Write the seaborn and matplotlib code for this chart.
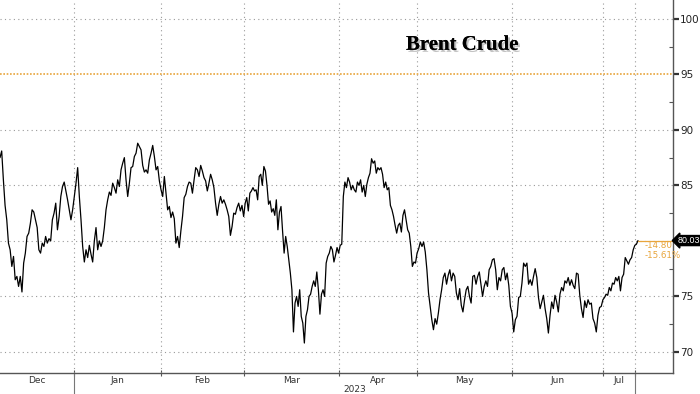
import numpy as np
import pandas as pd
import matplotlib
matplotlib.use("Agg")
import matplotlib.pyplot as plt
import matplotlib.patheffects as pe
import matplotlib.transforms as mtransforms
import seaborn as sns

# ---- data ----
months = ["Dec", "Jan", "Feb", "Mar", "Apr", "May", "Jun", "Jul"]
trading_days = [18, 21, 20, 23, 19, 23, 22, 8.5]
year_label = "2023"
year_edges = [18, 153.8]

dec = [87.5, 88.1, 85.5, 83.2, 81.9, 79.8, 79.2, 77.7, 78.6, 76.5, 76.8, 75.9, 76.8, 75.4,
       78.0, 78.9, 80.4, 80.7, 81.6, 82.8, 82.6, 81.9, 81.2, 79.2, 78.9, 79.8, 79.5, 80.4,
       79.8, 80.2, 80.0, 81.9, 82.5, 83.4, 81.0, 82.2, 84.0, 84.9, 85.3, 84.5, 83.7, 82.8,
       81.9, 82.8]
jan = [84.0, 85.2, 86.6, 84.0, 81.9, 79.5, 78.1, 79.2, 78.5, 79.6, 78.8, 78.1, 80.0, 81.2,
       79.2, 80.0, 79.5, 80.0, 81.2, 82.8, 83.7, 84.4, 84.1, 85.2, 84.8, 84.3, 85.5, 84.9,
       86.4, 87.0, 87.5, 85.5, 84.0, 85.2, 86.6, 86.7, 87.6, 87.9, 88.8, 88.5, 88.2, 86.8,
       86.2, 86.4, 86.1, 87.3, 87.9, 88.6, 87.6, 86.4, 86.7, 85.4]
feb = [84.6, 84.0, 85.8, 84.3, 82.8, 83.1, 82.1, 82.6, 82.0, 79.8, 80.4, 79.4, 80.9, 82.2,
       83.9, 84.2, 84.9, 85.3, 85.2, 84.3, 85.5, 86.6, 86.4, 85.8, 86.8, 86.3, 85.7, 85.4,
       84.5, 85.2, 86.0, 85.5, 84.8, 83.4, 82.3, 83.3, 84.0, 83.4, 83.7, 83.3, 82.8, 82.2,
       80.5, 81.3, 82.5, 82.4, 83.0, 83.4, 82.7, 83.2]
mar = [82.2, 83.4, 83.9, 82.7, 84.3, 84.5, 84.8, 84.5, 84.6, 83.7, 85.8, 86.0, 85.0, 86.7,
       86.3, 85.0, 83.3, 83.6, 82.6, 82.9, 82.3, 83.7, 81.0, 82.6, 83.1, 80.9, 78.9, 80.4,
       79.5, 78.3, 77.1, 75.6, 71.8, 74.4, 75.0, 74.1, 75.6, 73.2, 72.6, 70.8, 73.2, 73.8,
       75.0, 75.2, 75.9, 76.4, 75.9, 77.2, 75.6, 73.4, 75.2, 75.6, 75.0, 78.0, 78.6, 78.9,
       79.5, 79.2, 78.1, 78.7, 79.4]
apr = [78.9, 79.6, 79.7, 84.0, 85.3, 84.8, 85.7, 85.3, 84.6, 85.0, 84.6, 84.4, 85.3, 85.0,
       85.5, 84.4, 85.0, 84.0, 85.1, 85.7, 86.1, 87.4, 87.0, 87.2, 86.1, 86.6, 86.4, 86.6,
       86.0, 84.8, 85.3, 84.6, 84.8, 83.2, 82.8, 82.2, 81.4, 80.7, 81.4, 81.6, 80.8, 82.3,
       82.8, 81.9, 81.0, 80.7, 79.5, 77.7, 78.1, 78.0]
may = [78.9, 79.3, 79.9, 79.5, 79.9, 79.0, 77.4, 75.3, 74.1, 72.9, 72.0, 73.0, 72.5, 73.5,
       74.7, 75.6, 76.7, 77.1, 76.1, 76.9, 77.4, 76.4, 77.1, 76.8, 75.3, 74.7, 75.7, 74.2,
       73.6, 74.7, 75.6, 75.9, 75.0, 74.4, 76.8, 76.9, 76.1, 76.8, 77.2, 76.1, 75.0, 75.9,
       76.4, 75.9, 77.4, 77.7, 78.3, 78.4, 77.4, 75.6, 76.7, 76.4, 77.4, 77.6, 76.5, 77.1,
       76.0, 74.1]
jun = [73.5, 71.8, 72.9, 73.2, 74.9, 75.0, 76.2, 78.0, 77.7, 78.0, 76.1, 76.5, 76.0, 76.8,
       77.5, 76.7, 74.9, 73.9, 74.5, 75.1, 73.9, 73.0, 71.7, 73.3, 74.5, 73.9, 75.1, 74.5,
       73.6, 75.2, 75.8, 75.5, 76.4, 76.2, 76.7, 76.0, 76.5, 76.0, 75.7, 77.1, 77.0, 75.1,
       73.9, 73.1, 74.6, 74.0, 74.7, 74.3, 74.4, 73.0, 72.6, 71.8, 73.3, 74.0, 74.1]
jul = [74.7, 74.9, 75.2, 75.1, 75.8, 75.5, 76.2, 76.1, 76.7, 76.4, 76.8, 75.5, 76.7, 77.0,
       78.5, 78.2, 77.9, 78.3, 78.5, 79.2, 79.6, 79.7, 80.03]

last_value = 80.03
net_change = "-14.80"
pct_change = "-15.61%"
ref_level = 95
title = "Brent Crude"
y_ticks = [70, 75, 80, 85, 90, 95, 100]

# ---- build table ----
series = [dec, jan, feb, mar, apr, may, jun, jul]
edges = np.concatenate([[0], np.cumsum(trading_days)])
frames = []
for i, vals in enumerate(series):
    last = i == len(series) - 1
    xs = np.linspace(edges[i], edges[i + 1], len(vals), endpoint=last)
    frames.append(pd.DataFrame({"day": xs, "price": vals}))
df = pd.concat(frames, ignore_index=True)
x_end = df["day"].iloc[-1]

# ---- plot ----
sns.set_theme(style="white")
plt.rcParams["font.family"] = ["DejaVu Sans"]

fig = plt.figure(figsize=(7.0, 3.94), dpi=100)
ax = fig.add_axes([0.0, 21 / 394, 673 / 700, 373 / 394])

orange = "#E8A53C"
grid_c = "#9a9a9a"

xmax = x_end * 673 / 638
ax.set_xlim(0, xmax)
ax.set_ylim(68.1, 101.7)

# gridlines
grid_ls = (0, (1, 3))
for yv in y_ticks:
    if yv != ref_level:
        ax.axhline(yv, color=grid_c, lw=0.8, ls=grid_ls, zorder=1)
month_ticks = list(edges[1:-1]) + [year_edges[1]]
for xv in month_ticks:
    ax.axvline(xv, color=grid_c, lw=0.8, ls=grid_ls, zorder=1)

ax.axhline(ref_level, color=orange, lw=1.2, ls=(0, (1, 1)), zorder=2)

sns.lineplot(data=df, x="day", y="price", color="black", lw=0.9, ax=ax, zorder=3)

# last value line
ax.plot([x_end, xmax], [last_value, last_value], color=orange, lw=0.9, zorder=3, clip_on=False)
ax.text(x_end + 1.6, last_value - 0.45, net_change, color=orange, fontsize=6.3,
        va="center", ha="left")
ax.text(x_end + 1.6, last_value - 1.35, pct_change, color=orange, fontsize=6.3,
        va="center", ha="left")

# axes styling
for s in ["left", "top"]:
    ax.spines[s].set_visible(False)
for s in ["right", "bottom"]:
    ax.spines[s].set_color("#555555")
    ax.spines[s].set_linewidth(1.0)

ax.yaxis.tick_right()
ax.set_yticks(y_ticks)
ax.set_yticklabels(["" if v == 80 else str(v) for v in y_ticks])
ax.set_yticks([v + 2.5 for v in y_ticks[:-1]], minor=True)
ax.tick_params(axis="y", which="major", direction="out", length=4, width=1.6,
               color="#333333", labelsize=7.5, labelcolor="#222222", pad=1, right=True, left=False)
ax.tick_params(axis="y", which="minor", direction="in", length=3, width=0.8,
               color="#555555", right=True, left=False)

ax.set_xticks(month_ticks)
ax.set_xticklabels([])
centers = [(a + b) / 2 for a, b in zip([0] + month_ticks[:-1], month_ticks)]
ax.set_xticks(centers, minor=True)
ax.set_xticklabels(months, minor=True)
ax.tick_params(axis="x", which="major", direction="inout", length=4, width=0.8,
               color="#555555", bottom=True)
ax.tick_params(axis="x", which="minor", length=0, labelsize=6.5, labelcolor="#333333", pad=2)
ax.set_xlabel("")
ax.set_ylabel("")

# year separators and year label
trans = mtransforms.blended_transform_factory(ax.transData, ax.transAxes)
for xv in year_edges:
    ax.plot([xv, xv], [0, -21 / 373], transform=trans, color="#777777", lw=0.8, clip_on=False)
ax.text((year_edges[0] + year_edges[1]) / 2, -17 / 373, year_label, transform=trans,
        ha="center", va="center", fontsize=6.5, color="#333333")

# last value tag
ax.annotate(f"{last_value:.2f}", xy=(1.0, last_value), xycoords=("axes fraction", "data"),
            xytext=(3.2, 0), textcoords="offset points", ha="left", va="center",
            fontsize=6.4, color="white", family=["Liberation Sans", "DejaVu Sans"],
            bbox=dict(boxstyle="larrow,pad=0.06", fc="black", ec="black"),
            annotation_clip=False)

# title
ax.text(0.687, 0.88, title, transform=ax.transAxes, ha="center", va="center",
        fontsize=15, fontweight="bold", family=["Liberation Serif", "DejaVu Serif"],
        color="black",
        path_effects=[pe.withSimplePatchShadow(offset=(1.5, -1.5), shadow_rgbFace="#888888", alpha=0.5),
                      pe.Normal()])

fig.savefig("out.png", dpi=100)
